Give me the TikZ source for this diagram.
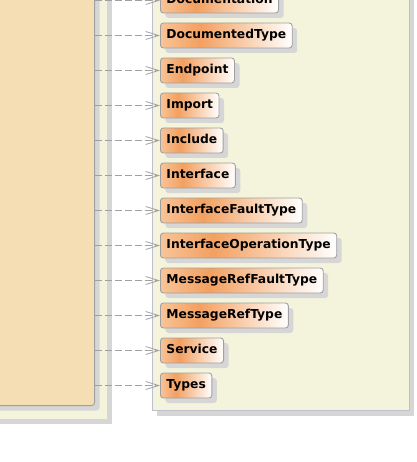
\documentclass[tikz,border=0pt]{standalone}
\usepackage{fontspec}
\setmainfont{DejaVu Sans}
\usepackage{tikz}
\usetikzlibrary{arrows.meta}
\usetikzlibrary{shadows}
\usetikzlibrary{positioning}

\definecolor{tanfill}{RGB}{245,222,179}
\definecolor{pkgfill}{RGB}{244,244,220}
\definecolor{shadowgray}{RGB}{214,214,214}
\definecolor{bordergray}{RGB}{160,160,160}
\definecolor{pkgborder}{RGB}{190,192,208}
\definecolor{classleft}{RGB}{248,196,152}
\definecolor{classpeak}{RGB}{243,160,96}
\pgfdeclarehorizontalshading{classfill}{100bp}{color(0bp)=(classleft); color(25bp)=(classleft); color(40bp)=(classpeak); color(75bp)=(white); color(100bp)=(white)}

\tikzset{
    classbox/.style={
           rectangle,
           rounded corners=3pt,
           draw=bordergray, line width=0.9pt,
           shading=classfill,
           general shadow={fill=shadowgray, shadow xshift=5pt, shadow yshift=-5pt},
           minimum height=25pt,
           text height=9pt, text depth=2.5pt,
           inner xsep=6pt,
           font=\fontsize{12.3}{14}\selectfont\bfseries,
           },
    pkgbox/.style={
           rectangle,
           fill=pkgfill,
           general shadow={fill=shadowgray, shadow xshift=5pt, shadow yshift=-5pt},
           inner sep=0pt,
           },
    dep/.style={
           draw=bordergray, line width=0.8pt,
           dash pattern=on 7pt off 3pt,
           },
}

\begin{document}
\begin{tikzpicture}[x=1pt,y=-1pt,->,>={Straight Barb[length=13pt,width=8pt]}]

 \useasboundingbox (0,0) rectangle (416,462);
 \clip (0,0) rectangle (416,462);

 % package on the left, with the source class inside it
 \node[pkgbox, minimum width=150pt, minimum height=480pt,
  anchor=south east] (wsdlpkg) at (107,419) {};
 \node[pkgbox, fill=tanfill, draw=bordergray, line width=0.9pt,
  rounded corners=3pt, shadow xshift=4pt,
  minimum width=130pt, minimum height=470pt,
  anchor=south east] (wsdl) at (95,406) {};

 % package on the right that holds the classes
 \node[pkgbox, draw=pkgborder, line width=0.9pt,
  minimum width=257pt, minimum height=480pt,
  anchor=south west] (typespkg) at (152,411) {};

 % classes, one below the other, left edges lined up
 \node[classbox, anchor=west] (Documentation) at (160,0.5) {Documentation};
 \node[classbox, below=9.1pt of Documentation.south west, anchor=north west] (DocumentedType) {DocumentedType};
 \node[classbox, below=9.1pt of DocumentedType.south west, anchor=north west] (Endpoint) {Endpoint};
 \node[classbox, below=9.1pt of Endpoint.south west, anchor=north west] (Import) {Import};
 \node[classbox, below=9.1pt of Import.south west, anchor=north west] (Include) {Include};
 \node[classbox, below=9.1pt of Include.south west, anchor=north west] (Interface) {Interface};
 \node[classbox, below=9.1pt of Interface.south west, anchor=north west] (InterfaceFaultType) {InterfaceFaultType};
 \node[classbox, below=9.1pt of InterfaceFaultType.south west, anchor=north west] (InterfaceOperationType) {InterfaceOperationType};
 \node[classbox, below=9.1pt of InterfaceOperationType.south west, anchor=north west] (MessageRefFaultType) {MessageRefFaultType};
 \node[classbox, below=9.1pt of MessageRefFaultType.south west, anchor=north west] (MessageRefType) {MessageRefType};
 \node[classbox, below=9.1pt of MessageRefType.south west, anchor=north west] (Service) {Service};
 \node[classbox, below=9.1pt of Service.south west, anchor=north west] (Types) {Types};

 % dependencies from the source class to every class
 \path (wsdl.east |- Documentation)      edge[dep] (Documentation)
 (wsdl.east |- DocumentedType)         edge[dep] (DocumentedType)
 (wsdl.east |- Endpoint)               edge[dep] (Endpoint)
 (wsdl.east |- Import)                 edge[dep] (Import)
 (wsdl.east |- Include)                edge[dep] (Include)
 (wsdl.east |- Interface)              edge[dep] (Interface)
 (wsdl.east |- InterfaceFaultType)     edge[dep] (InterfaceFaultType)
 (wsdl.east |- InterfaceOperationType) edge[dep] (InterfaceOperationType)
 (wsdl.east |- MessageRefFaultType)    edge[dep] (MessageRefFaultType)
 (wsdl.east |- MessageRefType)         edge[dep] (MessageRefType)
 (wsdl.east |- Service)                edge[dep] (Service)
 (wsdl.east |- Types)                  edge[dep] (Types);

\end{tikzpicture}
\end{document}
